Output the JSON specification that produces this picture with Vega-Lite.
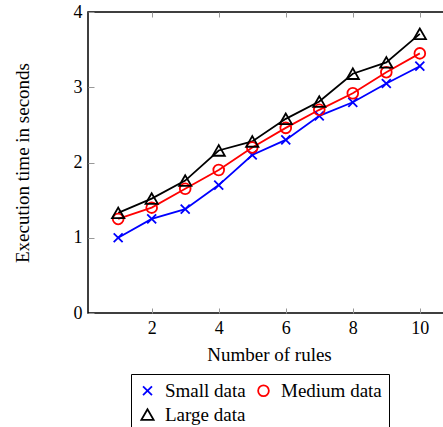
{
  "$schema": "https://vega.github.io/schema/vega-lite/v6.json",
  "width": 362,
  "height": 301,
  "autosize": {"type": "none"},
  "padding": {"left": 88, "top": 12, "right": 0, "bottom": 114},
  "background": "white",
  "config": {
    "font": "Liberation Serif",
    "view": {"stroke": "black", "strokeWidth": 1.5},
    "axis": {
      "domain": false,
      "grid": false,
      "tickColor": "#999999",
      "tickWidth": 1,
      "labelFont": "Liberation Serif",
      "titleFont": "Liberation Serif",
      "labelFontSize": 18,
      "titleFontSize": 19,
      "labelColor": "black",
      "titleColor": "black",
      "titleFontWeight": "normal"
    },
    "legend": {
      "labelFont": "Liberation Serif", "labelFontSize": 19, "labelColor": "black",
      "symbolStrokeWidth": 1.8, "symbolFillColor": "transparent",
      "labelOffset": 8, "columnPadding": 8, "rowPadding": 4,
      "strokeColor": "black", "padding": 7, "fillColor": "white"
    }
  },
  "data": {
    "values": [
      {"rules": 1, "time": 1.0, "series": "Small data"},
      {"rules": 2, "time": 1.25, "series": "Small data"},
      {"rules": 3, "time": 1.38, "series": "Small data"},
      {"rules": 4, "time": 1.7, "series": "Small data"},
      {"rules": 5, "time": 2.1, "series": "Small data"},
      {"rules": 6, "time": 2.3, "series": "Small data"},
      {"rules": 7, "time": 2.62, "series": "Small data"},
      {"rules": 8, "time": 2.8, "series": "Small data"},
      {"rules": 9, "time": 3.05, "series": "Small data"},
      {"rules": 10, "time": 3.28, "series": "Small data"},
      {"rules": 1, "time": 1.25, "series": "Medium data"},
      {"rules": 2, "time": 1.4, "series": "Medium data"},
      {"rules": 3, "time": 1.65, "series": "Medium data"},
      {"rules": 4, "time": 1.9, "series": "Medium data"},
      {"rules": 5, "time": 2.2, "series": "Medium data"},
      {"rules": 6, "time": 2.46, "series": "Medium data"},
      {"rules": 7, "time": 2.7, "series": "Medium data"},
      {"rules": 8, "time": 2.92, "series": "Medium data"},
      {"rules": 9, "time": 3.2, "series": "Medium data"},
      {"rules": 10, "time": 3.45, "series": "Medium data"},
      {"rules": 1, "time": 1.33, "series": "Large data"},
      {"rules": 2, "time": 1.52, "series": "Large data"},
      {"rules": 3, "time": 1.76, "series": "Large data"},
      {"rules": 4, "time": 2.16, "series": "Large data"},
      {"rules": 5, "time": 2.28, "series": "Large data"},
      {"rules": 6, "time": 2.58, "series": "Large data"},
      {"rules": 7, "time": 2.81, "series": "Large data"},
      {"rules": 8, "time": 3.18, "series": "Large data"},
      {"rules": 9, "time": 3.33, "series": "Large data"},
      {"rules": 10, "time": 3.71, "series": "Large data"}
    ]
  },
  "layer": [
    {
      "mark": {"type": "line", "strokeWidth": 1.8},
      "encoding": {
        "x": {
          "field": "rules", "type": "quantitative",
          "scale": {"domain": [0.1, 10.9], "nice": false, "zero": false},
          "axis": {"orient": "bottom", "values": [2, 4, 6, 8, 10], "tickSize": -5, "labelPadding": 11, "title": "Number of rules", "titlePadding": 8}
        },
        "y": {
          "field": "time", "type": "quantitative",
          "scale": {"domain": [0, 4], "nice": false, "zero": true},
          "axis": {"orient": "left", "values": [0, 1, 2, 3, 4], "tickSize": -6, "labelPadding": 12, "title": "Execution time in seconds", "titlePadding": 41}
        },
        "color": {
          "field": "series", "type": "nominal",
          "scale": {"domain": ["Small data", "Medium data", "Large data"], "range": ["#0000ff", "#ff0000", "#000000"]},
          "legend": {"orient": "none", "legendX": 43, "legendY": 362, "direction": "horizontal", "columns": 2, "title": null, "labelFont": "Liberation Serif", "labelFontSize": 19}
        },
        "detail": {"field": "series"}
      }
    },
    {
      "mark": {"type": "point", "filled": false, "strokeWidth": 1.8, "opacity": 1},
      "encoding": {
        "x": {"field": "rules", "type": "quantitative", "axis": {"orient": "top", "values": [2, 4, 6, 8, 10], "tickSize": -5, "labels": false, "title": null}},
        "y": {"field": "time", "type": "quantitative", "axis": {"orient": "right", "values": [0, 1, 2, 3, 4], "tickSize": -5, "labels": false, "title": null}},
        "color": {
          "field": "series", "type": "nominal",
          "legend": {"orient": "none", "legendX": 43, "legendY": 362, "direction": "horizontal", "columns": 2, "title": null, "labelFont": "Liberation Serif", "labelFontSize": 19}
        },
        "shape": {
          "field": "series", "type": "nominal",
          "scale": {"domain": ["Small data", "Medium data", "Large data"], "range": ["M-1,-1L1,1M-1,1L1,-1", "circle", "triangle-up"]},
          "legend": {"orient": "none", "legendX": 43, "legendY": 362, "direction": "horizontal", "columns": 2, "title": null, "labelFont": "Liberation Serif", "labelFontSize": 19}
        },
        "size": {
          "field": "series", "type": "nominal",
          "scale": {"domain": ["Small data", "Medium data", "Large data"], "range": [80, 150, 180]},
          "legend": {"orient": "none", "legendX": 43, "legendY": 362, "direction": "horizontal", "columns": 2, "title": null, "labelFont": "Liberation Serif", "labelFontSize": 19}
        }
      }
    }
  ],
  "resolve": {"axis": {"x": "independent", "y": "independent"}}
}
